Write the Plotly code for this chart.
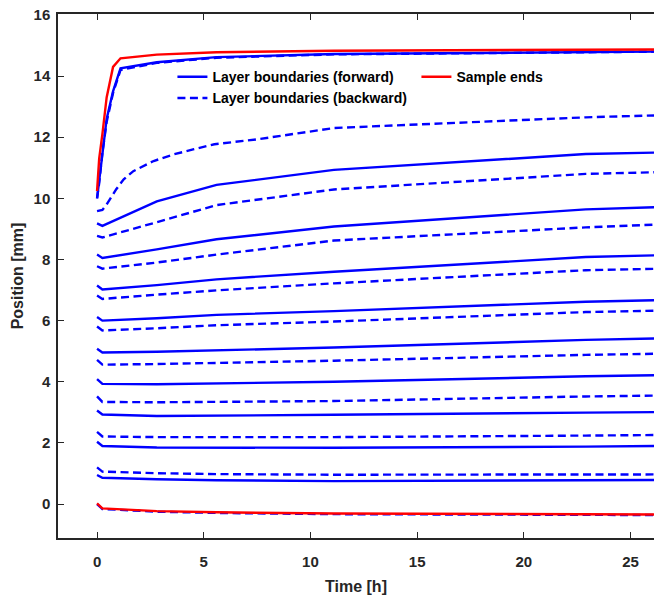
import plotly.graph_objects as go

# ---- data ----
t_layer = [0, 0.25, 2.8, 5.6, 11.1, 22.9, 26.5]
t_top = [0, 0.1, 0.25, 0.45, 0.75, 1.1, 2.8, 5.6, 11.1, 22.9, 26.5]
t_b9 = [0, 0.25, 0.45, 0.9, 1.25, 1.7, 2.65, 3.6, 4.5, 5.5, 7.5, 11.1, 22.9, 26.5]

fwd1 = [0.95, 0.86, 0.81, 0.78, 0.75, 0.77, 0.79]
fwd2 = [2.04, 1.90, 1.85, 1.84, 1.84, 1.88, 1.90]
fwd3 = [3.06, 2.93, 2.88, 2.89, 2.92, 2.99, 3.01]
fwd4 = [4.09, 3.93, 3.92, 3.95, 4.00, 4.18, 4.22]
fwd5 = [5.08, 4.96, 4.98, 5.03, 5.12, 5.37, 5.42]
fwd6 = [6.12, 6.00, 6.08, 6.19, 6.31, 6.62, 6.67]
fwd7 = [7.15, 7.02, 7.16, 7.35, 7.60, 8.08, 8.14]
fwd8 = [8.16, 8.05, 8.33, 8.66, 9.08, 9.64, 9.72]
fwd9 = [9.18, 9.10, 9.90, 10.44, 10.93, 11.45, 11.50]
fwd_top = [10.0, 10.6, 11.6, 12.6, 13.5, 14.25, 14.45, 14.62, 14.72, 14.78, 14.80]

bwd0 = [0.0, -0.16, -0.25, -0.29, -0.33, -0.36, -0.36]
bwd1 = [1.20, 1.06, 1.01, 0.98, 0.96, 0.96, 0.97]
bwd2 = [2.36, 2.21, 2.19, 2.19, 2.19, 2.24, 2.26]
bwd3 = [3.52, 3.34, 3.33, 3.34, 3.37, 3.52, 3.55]
bwd4 = [4.72, 4.56, 4.58, 4.61, 4.69, 4.88, 4.92]
bwd5 = [5.81, 5.68, 5.75, 5.85, 5.97, 6.28, 6.33]
bwd6 = [6.82, 6.71, 6.85, 6.99, 7.22, 7.65, 7.70]
bwd7 = [7.78, 7.70, 7.90, 8.16, 8.62, 9.05, 9.15]
bwd8 = [8.77, 8.72, 9.22, 9.78, 10.29, 10.80, 10.86]
bwd9 = [9.58, 9.62, 9.80, 10.30, 10.62, 10.89, 11.22, 11.44, 11.60, 11.77, 11.93, 12.30, 12.65, 12.72]
bwd_top = [10.0, 10.5, 11.5, 12.5, 13.45, 14.2, 14.43, 14.60, 14.71, 14.77, 14.80]

end_bottom = [0.02, -0.14, -0.23, -0.27, -0.31, -0.34, -0.34]
end_top = [10.24, 11.3, 12.1, 13.3, 14.3, 14.58, 14.70, 14.78, 14.83, 14.86, 14.87]

x_ticks = [0, 5, 10, 15, 20, 25]
y_ticks = [0, 2, 4, 6, 8, 10, 12, 14, 16]

BLUE = "#0000FF"
RED = "#FF0000"
LW = 2.4
DASH = "8px,4.5px"
FONT = "Liberation Sans, Arial, sans-serif"
AX = "#262626"

fig = go.Figure()

fwd_sets = [(t_layer, fwd1), (t_layer, fwd2), (t_layer, fwd3), (t_layer, fwd4),
            (t_layer, fwd5), (t_layer, fwd6), (t_layer, fwd7), (t_layer, fwd8),
            (t_layer, fwd9), (t_top, fwd_top)]
bwd_sets = [(t_layer, bwd0), (t_layer, bwd1), (t_layer, bwd2), (t_layer, bwd3),
            (t_layer, bwd4), (t_layer, bwd5), (t_layer, bwd6), (t_layer, bwd7),
            (t_layer, bwd8), (t_b9, bwd9), (t_top, bwd_top)]

for i, (tx, ys) in enumerate(fwd_sets):
    fig.add_trace(go.Scatter(x=tx, y=ys, mode="lines",
                             line=dict(color=BLUE, width=LW),
                             name="Layer boundaries (forward)",
                             showlegend=(i == 0), legendrank=1))
for i, (tx, ys) in enumerate(bwd_sets):
    fig.add_trace(go.Scatter(x=tx, y=ys, mode="lines",
                             line=dict(color=BLUE, width=LW, dash=DASH),
                             name="Layer boundaries (backward)",
                             showlegend=(i == 0), legendrank=3))
for i, (tx, ys) in enumerate([(t_layer, end_bottom), (t_top, end_top)]):
    fig.add_trace(go.Scatter(x=tx, y=ys, mode="lines",
                             line=dict(color=RED, width=LW),
                             name="Sample ends",
                             showlegend=(i == 0), legendrank=2))

fig.update_layout(
    width=654, height=595,
    margin=dict(l=58, r=0, t=14, b=57, autoexpand=False),
    paper_bgcolor="white", plot_bgcolor="white",
    font=dict(family=FONT, size=15, color=AX, weight="bold"),
    legend=dict(orientation="h", x=0.192, y=0.91, xanchor="left", yanchor="top",
                entrywidth=199, entrywidthmode="pixels",
                bgcolor="rgba(0,0,0,0)", traceorder="normal",
                font=dict(family=FONT, size=14, color="#000000", weight="bold")),
    xaxis=dict(range=[-1.83, 26.1], tickvals=x_ticks, ticks="inside", ticklen=6,
               tickwidth=1.3, tickcolor=AX, showline=True, linecolor=AX, linewidth=1.5,
               mirror="ticks", showgrid=False, zeroline=False,
               ticklabelstandoff=9,
               title=dict(text="Time [h]", standoff=12,
                          font=dict(family=FONT, size=16, color=AX, weight="bold"))),
    yaxis=dict(range=[-1.11, 16.03], tickvals=y_ticks, ticks="inside", ticklen=6,
               tickwidth=1.3, tickcolor=AX, showline=True, linecolor=AX, linewidth=1.5,
               mirror=False, showgrid=False, zeroline=False,
               ticklabelstandoff=3,
               title=dict(text="Position [mm]", standoff=6,
                          font=dict(family=FONT, size=16, color=AX, weight="bold"))),
)

fig.write_html("out.html")
